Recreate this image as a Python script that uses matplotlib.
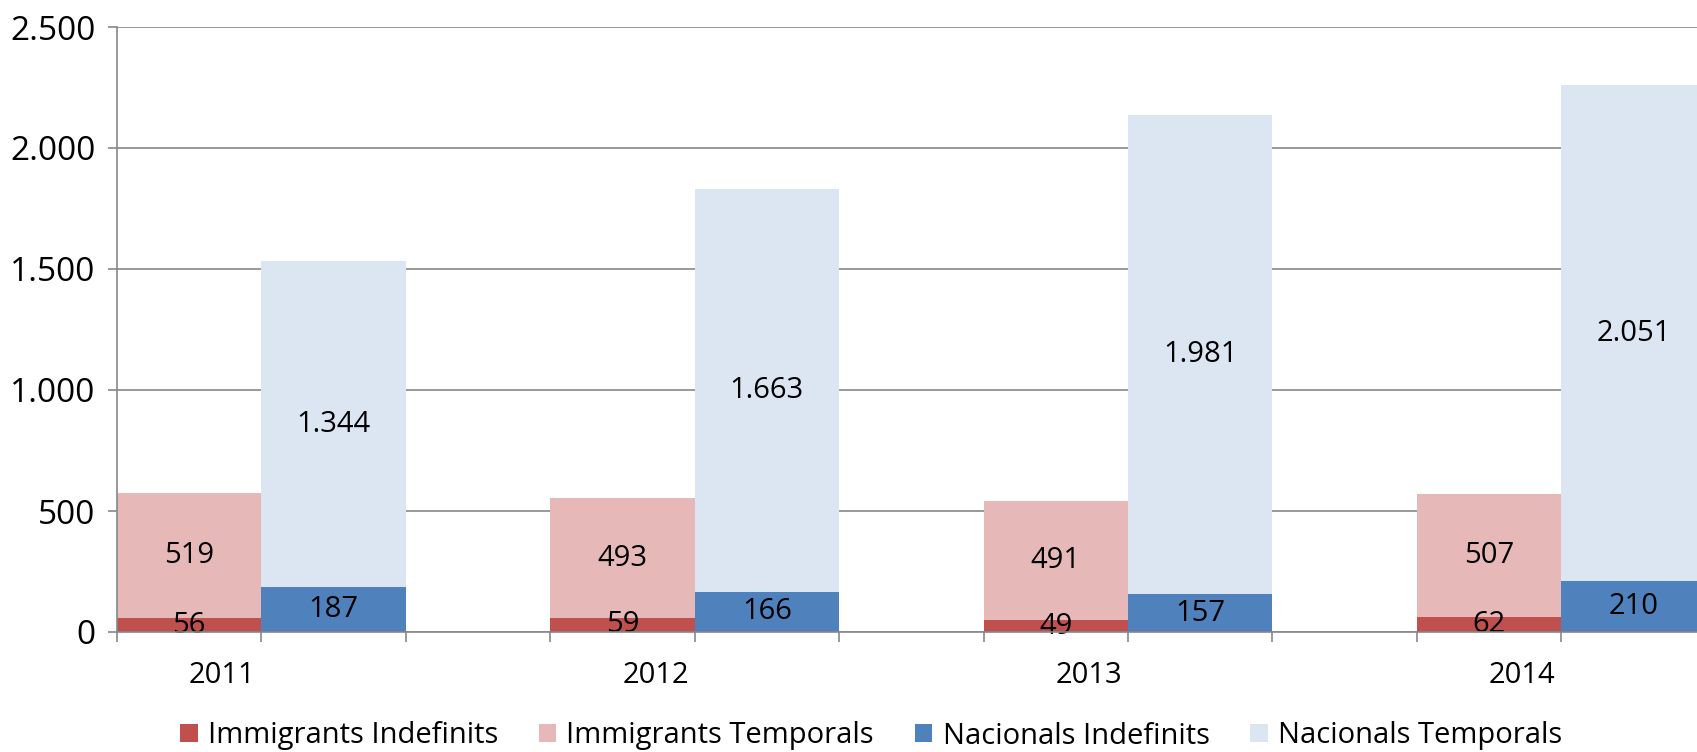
import matplotlib
matplotlib.use("Agg")
import matplotlib.pyplot as plt
from matplotlib.patches import Patch
from matplotlib.ticker import FuncFormatter

plt.rcParams['font.family'] = ['Open Sans', 'DejaVu Sans']

years = ["2011", "2012", "2013", "2014"]
imm_indef = [56, 59, 49, 62]
imm_temp = [519, 493, 491, 507]
nac_indef = [187, 166, 157, 210]
nac_temp = [1344, 1663, 1981, 2051]

series_names = ["Immigrants Indefinits", "Immigrants Temporals",
                "Nacionals Indefinits", "Nacionals Temporals"]
colors = ["#C0504D", "#E6B9B8", "#4F81BD", "#DCE6F2"]

W, H = 1697, 752
fig = plt.figure(figsize=(W / 100, H / 100), dpi=100)
ax = fig.add_axes([117 / W, (752 - 632) / H, 1733 / W, (632 - 27) / H])

grid_c = "#878787"
fs_data = 21
fs_x = 21
fs_y = 24
fs_leg = 21

def fmt(v):
    return f"{int(v):,}".replace(",", ".")

for i, y in enumerate(years):
    xi = 3 * i + 0.5
    xn = 3 * i + 1.5
    ax.bar(xi, imm_indef[i], width=1.0, color=colors[0], zorder=2)
    ax.bar(xi, imm_temp[i], width=1.0, bottom=imm_indef[i], color=colors[1], zorder=2)
    ax.bar(xn, nac_indef[i], width=1.0, color=colors[2], zorder=2)
    ax.bar(xn, nac_temp[i], width=1.0, bottom=nac_indef[i], color=colors[3], zorder=2)
    ax.text(xi, imm_indef[i] / 2, fmt(imm_indef[i]), ha="center", va="center", fontsize=fs_data, zorder=3)
    ax.text(xi, imm_indef[i] + imm_temp[i] / 2, fmt(imm_temp[i]), ha="center", va="center", fontsize=fs_data, zorder=3)
    ax.text(xn, nac_indef[i] / 2, fmt(nac_indef[i]), ha="center", va="center", fontsize=fs_data, zorder=3)
    ax.text(xn, nac_indef[i] + nac_temp[i] / 2, fmt(nac_temp[i]), ha="center", va="center", fontsize=fs_data, zorder=3)

ax.set_xlim(0, 12)
ax.set_ylim(0, 2500)
ax.set_yticks(range(0, 2501, 500))
ax.yaxis.set_major_formatter(FuncFormatter(lambda v, p: fmt(v)))
ax.yaxis.grid(True, color=grid_c, linewidth=1.2, zorder=0)
ax.set_axisbelow(True)

ax.set_xticks(range(0, 13))
ax.set_xticklabels([])
ax.set_xticks([3 * i + 0.73 for i in range(4)], minor=True)
ax.set_xticklabels(years, minor=True, fontsize=fs_x)
ax.tick_params(axis="x", which="minor", length=0, pad=21)
ax.tick_params(axis="x", which="major", length=7.5, width=1.2, color=grid_c, direction="out")
ax.tick_params(axis="y", length=6.5, width=1.2, color=grid_c, direction="out", labelsize=fs_y, pad=9)

for s in ["top", "right"]:
    ax.spines[s].set_visible(False)
for s in ["left", "bottom"]:
    ax.spines[s].set_color(grid_c)
    ax.spines[s].set_linewidth(1.2)
    ax.spines[s].set_zorder(4)

handles = [Patch(facecolor=c, edgecolor="none") for c in colors]
fig.legend(handles, series_names, loc="center left", bbox_to_anchor=(180 / W, 1 - 736 / H),
           ncol=4, frameon=False, fontsize=fs_leg, handlelength=0.6, handleheight=0.6,
           handletextpad=0.35, columnspacing=1.4, borderaxespad=0, borderpad=0)

fig.savefig("out.png", dpi=100)
